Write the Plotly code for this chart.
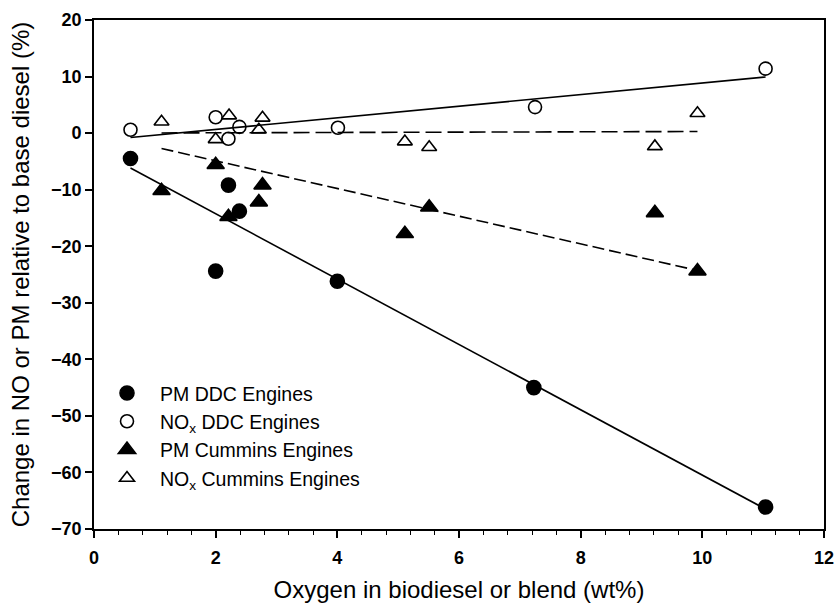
import numpy as np
import plotly.graph_objects as go

# Oxygen content (wt%) and change relative to base diesel (%)
pm_ddc_x = [0.6, 2.0, 2.21, 2.39, 4.0, 7.23, 11.04]
pm_ddc_y = [-4.5, -24.4, -9.2, -13.8, -26.2, -45.0, -66.1]

nox_ddc_x = [0.6, 2.0, 2.21, 2.39, 4.01, 7.25, 11.04]
nox_ddc_y = [0.6, 2.8, -1.0, 1.1, 0.95, 4.6, 11.4]

pm_cum_x = [1.11, 2.0, 2.21, 2.71, 2.77, 5.11, 5.51, 9.22, 9.92]
pm_cum_y = [-10.2, -5.6, -14.8, -12.2, -9.2, -17.8, -13.1, -14.1, -24.4]

nox_cum_x = [1.11, 2.0, 2.22, 2.71, 2.77, 5.11, 5.51, 9.22, 9.92]
nox_cum_y = [2.0, -1.1, 3.1, 0.6, 2.7, -1.5, -2.5, -2.35, 3.5]

x_ticks = [0, 2, 4, 6, 8, 10, 12]
y_ticks = [20, 10, 0, -10, -20, -30, -40, -50, -60, -70]

FONT = "Arial, Liberation Sans, sans-serif"


def ols_line(x, y):
    x = np.asarray(x, float)
    slope, icpt = np.polyfit(x, np.asarray(y, float), 1)
    xs = np.array([x.min(), x.max()])
    return xs, slope * xs + icpt


def origin_line(x, y):
    x = np.asarray(x, float)
    y = np.asarray(y, float)
    slope = (x * y).sum() / (x * x).sum()
    xs = np.array([x.min(), x.max()])
    return xs, slope * xs


fig = go.Figure()

# regression lines
for fx, fy, dash in [
    (*ols_line(pm_ddc_x, pm_ddc_y), "solid"),
    (*ols_line(nox_ddc_x, nox_ddc_y), "solid"),
    (*origin_line(pm_cum_x, pm_cum_y), "12px,5px"),
    (*origin_line(nox_cum_x, nox_cum_y), "16px,6px"),
]:
    fig.add_trace(go.Scatter(x=fx, y=fy, mode="lines", showlegend=False,
                             line=dict(color="black", width=1.6, dash=dash),
                             hoverinfo="skip"))

series = [
    (pm_ddc_x, pm_ddc_y, "PM DDC Engines", "circle", 14),
    (nox_ddc_x, nox_ddc_y, "NO<sub>x</sub> DDC Engines", "circle-open", 13),
    (pm_cum_x, pm_cum_y, "PM Cummins Engines", "triangle-up", 15),
    (nox_cum_x, nox_cum_y, "NO<sub>x</sub> Cummins Engines", "triangle-up-open", 13),
]
for sx, sy, name, sym, size in series:
    fig.add_trace(go.Scatter(
        x=sx, y=sy, mode="markers", name=name,
        marker=dict(symbol=sym, size=size, color="black",
                    line=dict(color="black", width=1.6)),
    ))

axis_common = dict(
    showline=True, linecolor="black", linewidth=1.6, mirror=True,
    ticks="outside", ticklen=7, tickwidth=1.5, tickcolor="black",
    showgrid=False, zeroline=False,
    tickfont=dict(family=FONT, size=18, color="black", weight="bold"),
    title_font=dict(family=FONT, size=24, color="black"),
)

fig.update_xaxes(
    range=[0, 12], tickvals=x_ticks,
    minor=dict(dtick=0.4, ticks="outside", ticklen=4, tickwidth=1.2,
               tickcolor="black", showgrid=False),
    title_text="Oxygen in biodiesel or blend (wt%)", title_standoff=14,
    ticklabelstandoff=5,
    **axis_common,
)
fig.update_yaxes(
    range=[-70, 20], tickvals=y_ticks,
    title_text="Change in NO or PM relative to base diesel (%)", title_standoff=15,
    **axis_common,
)

fig.update_layout(
    width=837, height=603,
    margin=dict(l=93.5, r=13, t=20, b=73.7, autoexpand=False),
    paper_bgcolor="white", plot_bgcolor="white",
    font=dict(family=FONT, color="black"),
    legend=dict(
        x=0.0, y=0.305, xanchor="left", yanchor="top",
        bgcolor="rgba(0,0,0,0)", borderwidth=0,
        itemwidth=56, tracegroupgap=0,
        font=dict(family=FONT, size=19.5, color="black"),
    ),
)

fig.write_html("out.html")
